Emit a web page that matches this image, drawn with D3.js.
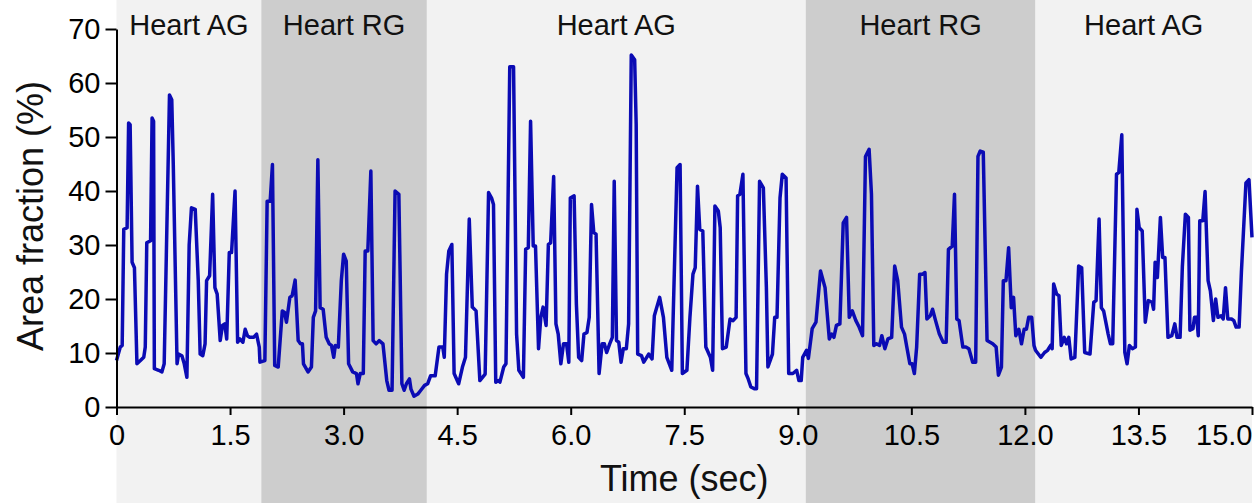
<!DOCTYPE html>
<html>
<head>
<meta charset="utf-8">
<script src="https://cdnjs.cloudflare.com/ajax/libs/d3/7.8.5/d3.min.js"></script>
<style>
  body { margin: 0; background: #fff; }
  svg { display: block; font-family: 'Liberation Sans', Arial, sans-serif; }
  .axis path, .axis line { stroke: #000; stroke-width: 2; }
  .axis text { fill: #000; font-size: 29px; }
</style>
</head>
<body>
<script>
// time (sec) of each sample
let times = [
  0.00, 0.05, 0.075, 0.096, 0.14, 0.16, 0.18, 0.206, 0.237, 0.27, 0.316, 0.36, 0.38, 0.40, 0.45, 0.47, 0.49, 0.50, 0.557, 0.60,
  0.63, 0.70, 0.73, 0.75, 0.80, 0.82, 0.864, 0.895, 0.93, 0.96, 0.99, 1.04, 1.08, 1.105, 1.14, 1.17, 1.19, 1.23, 1.27, 1.30,
  1.33, 1.37, 1.40, 1.43, 1.456, 1.49, 1.52, 1.566, 1.60, 1.63, 1.67, 1.70, 1.73, 1.76, 1.81, 1.85, 1.886, 1.895, 1.96, 1.99,
  2.03, 2.06, 2.09, 2.136, 2.19, 2.22, 2.245, 2.29, 2.32, 2.36, 2.40, 2.43, 2.456, 2.47, 2.53, 2.575, 2.60, 2.63, 2.66, 2.69,
  2.73, 2.77, 2.81, 2.84, 2.87, 2.89, 2.93, 2.97, 3.00, 3.035, 3.066, 3.12, 3.17, 3.19, 3.22, 3.26, 3.285, 3.32, 3.36, 3.39,
  3.43, 3.47, 3.52, 3.57, 3.60, 3.64, 3.68, 3.73, 3.77, 3.80, 3.83, 3.87, 3.89, 3.93, 3.98, 4.02, 4.07, 4.11, 4.15, 4.21,
  4.26, 4.31, 4.33, 4.36, 4.39, 4.43, 4.46, 4.52, 4.57, 4.61, 4.66, 4.70, 4.75, 4.80, 4.87, 4.915, 4.955, 4.98, 5.01, 5.045,
  5.065, 5.115, 5.145, 5.195, 5.245, 5.285, 5.315, 5.375, 5.405, 5.44, 5.47, 5.505, 5.535, 5.575, 5.605, 5.635, 5.675, 5.705, 5.735, 5.775,
  5.805, 5.835, 5.87, 5.905, 5.945, 5.975, 5.995, 6.045, 6.075, 6.105, 6.145, 6.175, 6.215, 6.245, 6.275, 6.305, 6.335, 6.375, 6.415, 6.445,
  6.475, 6.515, 6.55, 6.575, 6.605, 6.635, 6.665, 6.695, 6.735, 6.765, 6.80, 6.845, 6.865, 6.885, 6.935, 6.965, 7.03, 7.075, 7.105, 7.175,
  7.225, 7.27, 7.335, 7.405, 7.445, 7.475, 7.535, 7.575, 7.615, 7.645, 7.675, 7.705, 7.745, 7.785, 7.845, 7.875, 7.905, 7.95, 7.975, 8.005,
  8.055, 8.105, 8.145, 8.185, 8.205, 8.235, 8.275, 8.315, 8.345, 8.38, 8.425, 8.455, 8.495, 8.545, 8.585, 8.605, 8.665, 8.695, 8.725, 8.765,
  8.795, 8.845, 8.88, 8.935, 8.985, 9.015, 9.045, 9.065, 9.115, 9.14, 9.19, 9.24, 9.30, 9.36, 9.416, 9.447, 9.477, 9.51, 9.556, 9.60,
  9.644, 9.68, 9.72, 9.767, 9.81, 9.855, 9.894, 9.942, 9.973, 10.004, 10.04, 10.08, 10.11, 10.15, 10.19, 10.24, 10.28, 10.32, 10.37, 10.41,
  10.44, 10.48, 10.51, 10.54, 10.57, 10.61, 10.65, 10.68, 10.705, 10.75, 10.78, 10.82, 10.87, 10.92, 10.96, 10.99, 11.04, 11.07, 11.10, 11.13,
  11.18, 11.22, 11.26, 11.31, 11.35, 11.38, 11.41, 11.45, 11.50, 11.575, 11.62, 11.65, 11.69, 11.715, 11.75, 11.785, 11.82, 11.85, 11.88, 11.92,
  11.955, 11.99, 12.02, 12.05, 12.09, 12.12, 12.14, 12.21, 12.26, 12.30, 12.34, 12.36, 12.38, 12.42, 12.45, 12.48, 12.52, 12.55, 12.58, 12.61,
  12.66, 12.71, 12.75, 12.79, 12.86, 12.91, 12.94, 12.98, 13.01, 13.04, 13.10, 13.13, 13.16, 13.21, 13.24, 13.28, 13.32, 13.35, 13.38, 13.42,
  13.46, 13.48, 13.51, 13.55, 13.59, 13.63, 13.68, 13.70, 13.72, 13.75, 13.79, 13.82, 13.85, 13.89, 13.94, 13.98, 14.01, 14.05, 14.08, 14.12,
  14.16, 14.18, 14.22, 14.24, 14.27, 14.29, 14.31, 14.35, 14.38, 14.42, 14.45, 14.49, 14.52, 14.55, 14.59, 14.62, 14.65, 14.68, 14.73, 14.76,
  14.79, 14.83, 14.86, 14.92, 14.96, 15.00
];

// area fraction (%) at each sample
let areaFraction = [
  8.6, 11.1, 11.4, 32.9, 33.2, 52.6, 52.3, 26.8, 25.8, 8.0, 8.6, 9.2, 11.1, 30.4, 30.8, 53.5, 52.9, 7.1, 6.8, 6.5,
  8.0, 57.8, 56.9, 44.9, 8.0, 9.8, 9.5, 8.0, 5.5, 30.0, 36.9, 36.6, 23.4, 9.8, 9.5, 11.7, 23.4, 24.3, 39.4, 22.1,
  20.9, 12.3, 15.1, 15.4, 12.6, 28.6, 28.6, 40.0, 12.0, 12.6, 12.0, 14.4, 13.2, 12.9, 12.9, 13.5, 11.1, 8.3, 8.6, 38.1,
  38.1, 44.9, 7.7, 7.4, 17.8, 17.5, 15.7, 20.3, 20.6, 23.5, 12.3, 11.7, 11.7, 8.0, 6.5, 7.4, 16.6, 17.8, 45.8, 18.4,
  18.1, 12.9, 11.7, 11.4, 9.2, 11.4, 11.1, 23.4, 28.3, 27.0, 8.0, 6.5, 6.2, 4.3, 6.2, 6.2, 28.9, 28.9, 43.7, 12.3,
  11.7, 12.3, 11.7, 4.9, 3.1, 3.1, 40.0, 39.4, 4.3, 3.1, 4.3, 5.2, 3.3, 2.0, 2.4, 3.1, 4.0, 4.3, 5.8, 5.8,
  11.1, 11.1, 9.2, 24.6, 28.9, 30.1, 6.2, 4.3, 7.4, 9.2, 34.8, 18.5, 17.8, 4.9, 6.1, 39.7, 38.7, 37.5, 4.6, 4.9,
  4.6, 7.4, 8.0, 63.0, 63.0, 13.5, 6.8, 5.5, 29.2, 29.5, 52.9, 29.8, 29.8, 10.8, 16.6, 18.5, 15.1, 30.1, 30.4, 42.7,
  15.4, 13.5, 8.0, 11.7, 11.7, 8.3, 38.7, 39.1, 19.1, 9.2, 8.6, 13.5, 13.8, 16.6, 37.5, 32.3, 32.0, 6.2, 11.7, 11.7,
  10.1, 11.7, 12.9, 41.8, 12.3, 12.0, 8.3, 10.8, 10.8, 15.4, 65.2, 64.3, 52.3, 9.8, 9.5, 8.3, 9.8, 8.9, 16.9, 20.3,
  16.6, 9.2, 6.8, 44.3, 44.9, 6.2, 6.8, 16.6, 24.6, 25.8, 40.9, 32.9, 32.6, 11.1, 9.2, 6.8, 37.2, 36.3, 33.2, 10.8,
  11.1, 16.3, 16.0, 16.6, 39.1, 39.4, 43.1, 6.2, 5.2, 3.7, 3.4, 3.4, 41.8, 40.6, 22.1, 7.4, 9.8, 16.6, 16.6, 38.7,
  43.1, 42.4, 6.2, 6.2, 6.8, 4.9, 4.9, 9.2, 10.5, 9.0, 14.5, 15.7, 25.2, 22.1, 12.6, 13.5, 12.9, 15.1, 15.4, 34.1,
  35.1, 16.6, 17.8, 16.0, 14.8, 13.2, 46.4, 47.7, 39.4, 11.4, 11.7, 11.4, 13.2, 10.8, 12.6, 12.9, 26.1, 23.4, 14.8, 13.5,
  11.1, 8.0, 8.0, 6.2, 11.1, 24.6, 24.6, 24.9, 16.3, 16.9, 18.1, 16.0, 13.5, 12.0, 12.0, 29.2, 29.8, 39.4, 16.3, 16.0,
  11.1, 11.1, 10.8, 8.3, 8.3, 46.4, 47.4, 47.2, 12.3, 11.7, 11.1, 5.9, 7.4, 23.4, 23.4, 29.5, 18.4, 20.3, 13.2, 14.4,
  11.7, 14.4, 14.4, 16.6, 16.6, 11.4, 10.5, 9.2, 10.1, 10.5, 11.4, 10.8, 22.8, 20.9, 20.6, 11.4, 12.9, 11.7, 12.9, 8.9,
  9.2, 26.1, 25.8, 10.1, 9.8, 19.4, 19.7, 34.8, 18.4, 17.8, 13.5, 11.7, 11.7, 43.1, 43.4, 50.4, 10.1, 8.0, 11.4, 10.8,
  11.1, 36.6, 33.2, 32.6, 15.7, 19.7, 19.4, 18.1, 26.8, 24.0, 35.1, 27.7, 27.7, 12.9, 13.2, 15.4, 12.9, 12.9, 26.0, 35.7,
  35.1, 14.2, 14.5, 16.6, 16.6, 13.2, 34.5, 34.5, 39.9, 23.4, 21.5, 16.0, 20.0, 16.6, 16.9, 16.3, 22.1, 16.3, 16.3, 16.0,
  14.8, 14.8, 25.0, 41.5, 42.1, 31.4
];

// condition bands along the time axis
let bandLabels = ['Heart AG', 'Heart RG', 'Heart AG', 'Heart RG', 'Heart AG'];
let bandStarts = [0, 1.913, 4.10, 9.105, 12.14];
let bandEnds = [1.913, 4.10, 9.105, 12.14, 15.0];
let bandShades = ['#f2f2f2', '#cdcdcd', '#f2f2f2', '#cdcdcd', '#f2f2f2'];

let xTicks = [0, 1.5, 3.0, 4.5, 6.0, 7.5, 9.0, 10.5, 12.0, 13.5, 15.0];
let yTicks = [0, 10, 20, 30, 40, 50, 60, 70];

let width = 1258;
let height = 503;

let data = times.map(function (t, i) {
  return { time: t, value: areaFraction[i] };
});

//scales
let x = d3.scaleLinear()
  .domain([0, 15])
  .range([116.5, 1252]);
let y = d3.scaleLinear()
  .domain([0, 70])
  .range([407, 29]);

let svg = d3.select('body')
  .append('svg')
  .attr('width', width)
  .attr('height', height);

let bands = bandLabels.map(function (label, i) {
  return { label: label, start: bandStarts[i], end: bandEnds[i], fill: bandShades[i] };
});

//background bands run the full height
svg.selectAll('rect.band')
  .data(bands)
  .enter()
  .append('rect')
  .attr('class', 'band')
  .attr('x', function (d) { return x(d.start); })
  .attr('y', 0)
  .attr('width', function (d) { return x(d.end) - x(d.start); })
  .attr('height', height)
  .attr('fill', function (d) { return d.fill; });

svg.selectAll('text.band-label')
  .data(bands)
  .enter()
  .append('text')
  .attr('class', 'band-label')
  .attr('x', function (d) { return (x(d.start) + x(d.end)) / 2; })
  .attr('y', 35)
  .attr('text-anchor', 'middle')
  .attr('font-size', '29px')
  .attr('fill', '#111')
  .text(function (d) { return d.label; });

let line = d3.line()
  .x(function (d) { return x(d.time); })
  .y(function (d) { return y(d.value); });

svg.append('path')
  .attr('d', line(data))
  .attr('fill', 'none')
  .attr('stroke', '#0b0bb4')
  .attr('stroke-width', 3.5)
  .attr('stroke-linejoin', 'round');

let xAxis = d3.axisBottom(x)
  .tickValues(xTicks)
  .tickSize(8)
  .tickSizeOuter(0)
  .tickPadding(9)
  .tickFormat(function (d) { return d === 0 ? '0' : d3.format('.1f')(d); });

let yAxis = d3.axisLeft(y)
  .tickValues(yTicks)
  .tickSize(11)
  .tickSizeOuter(0)
  .tickPadding(5);

let xAxisGroup = svg.append('g')
  .attr('class', 'x axis')
  .attr('transform', 'translate(0,' + y(0) + ')')
  .call(xAxis);

// last label sits flush against the right end
xAxisGroup.selectAll('.tick text')
  .filter(function (d) { return d === 15; })
  .attr('text-anchor', 'end');

svg.append('g')
  .attr('class', 'y axis')
  .attr('transform', 'translate(' + x(0) + ',0)')
  .call(yAxis);

// axis titles
svg.append('text')
  .attr('x', (x(0) + x(15)) / 2)
  .attr('y', 491)
  .attr('text-anchor', 'middle')
  .attr('font-size', '36px')
  .attr('fill', '#111')
  .text('Time (sec)');

svg.append('text')
  .attr('transform', 'translate(43,216) rotate(-90)')
  .attr('text-anchor', 'middle')
  .attr('font-size', '36px')
  .attr('fill', '#111')
  .text('Area fraction (%)');
</script>
</body>
</html>
